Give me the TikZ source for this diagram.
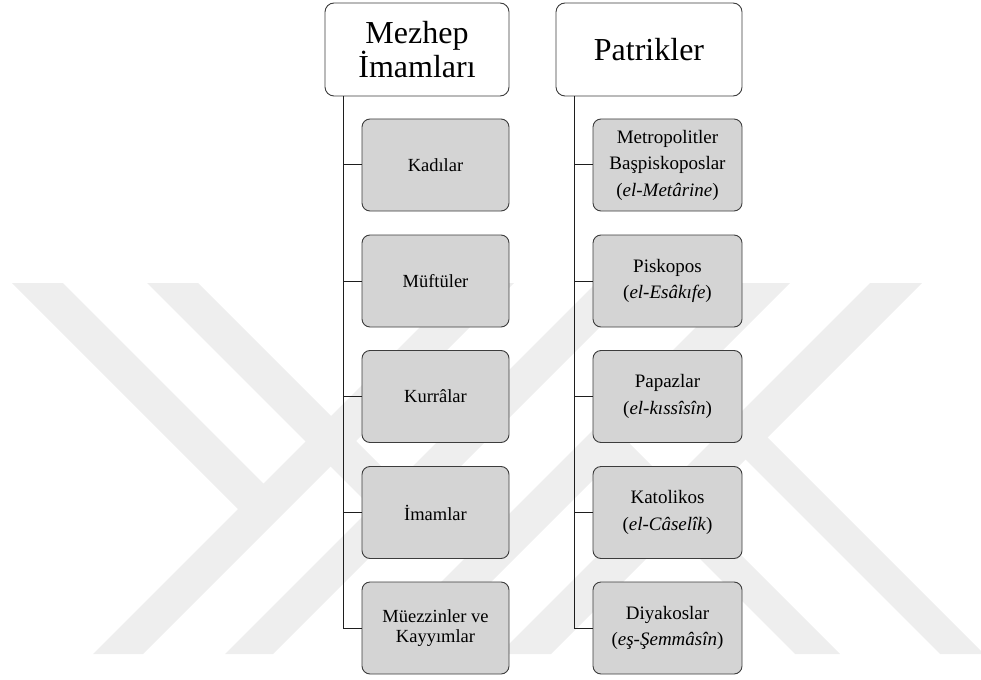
\documentclass[tikz,border=0pt]{standalone}
\usepackage{fontspec}
\setmainfont{Liberation Serif}
\definecolor{wmark}{RGB}{238,238,238}
\definecolor{boxfill}{RGB}{212,212,212}
\definecolor{boxline}{RGB}{60,60,60}
\definecolor{linkcol}{RGB}{30,30,30}
\begin{document}
\begin{tikzpicture}[x=1pt,y=-1pt,
  headbox/.style={draw=boxline, line width=0.9pt, fill=white, rounded corners=9pt,
    inner sep=0pt, minimum height=93pt, align=center,
    font=\fontsize{32}{33}\selectfont},
  leftbox/.style={draw=boxline, line width=0.9pt, fill=boxfill, rounded corners=8pt,
    inner sep=0pt, minimum width=147pt, minimum height=92pt, align=center,
    font=\fontsize{18.5}{19.5}\selectfont},
  rightbox/.style={draw=boxline, line width=0.9pt, fill=boxfill, rounded corners=8pt,
    inner sep=0pt, minimum width=149pt, minimum height=92pt, align=center,
    font=\fontsize{19}{26.5}\selectfont},
  link/.style={draw=linkcol, line width=1pt},
  band/.style={fill=wmark, draw=none}]
\useasboundingbox (0,0) rectangle (981,679);

% background emblem
\begin{scope}
\clip (0,0) rectangle (981,679);
\fill[band] (464,283) -- (514,283) -- (143,654) -- (93,654) -- cycle;
\fill[band] (596,283) -- (644,283) -- (273,654) -- (225,654) -- cycle;
\fill[band] (740,283) -- (790,283) -- (419,654) -- (369,654) -- cycle;
\fill[band] (870,283) -- (922,283) -- (551,654) -- (499,654) -- cycle;
\fill[band] (12,283) -- (63,283) -- (276,496) -- (250.5,521.5) -- cycle;
\fill[band] (147,283) -- (198,283) -- (409,494) -- (383.5,519.5) -- cycle;
\fill[band] (940,654) -- (984,654) -- (754.5,424.5) -- (732.5,446.5) -- cycle;
\fill[band] (795,654) -- (840,654) -- (617,431) -- (594.5,453.5) -- cycle;
\end{scope}

% column heads
\node[headbox, minimum width=184pt] (hdrL) at (417,49.5) {Mezhep\\İmamları};
\node[headbox, minimum width=186pt] (hdrR) at (649,49.5) {Patrikler};

% trunk positions
\coordinate (trunkL) at (343,0);
\coordinate (trunkR) at (574,0);

% left column
\node[leftbox] (l1) at (435.5,165)   {Kadılar};
\node[leftbox] (l2) at (435.5,281)   {Müftüler};
\node[leftbox] (l3) at (435.5,396.5) {Kurrâlar};
\node[leftbox] (l4) at (435.5,512.5) {İmamlar};
\node[leftbox] (l5) at (435.5,628)   {Müezzinler ve\\Kayyımlar};

% right column
\node[rightbox] (r1) at (667.5,165)   {Metropolitler\\Başpiskoposlar\\(\textit{el-Metârine})};
\node[rightbox] (r2) at (667.5,281)   {Piskopos\\(\textit{el-Esâkıfe})};
\node[rightbox] (r3) at (667.5,396.5) {Papazlar\\(\textit{el-kıssîsîn})};
\node[rightbox] (r4) at (667.5,512.5) {Katolikos\\(\textit{el-Câselîk})};
\node[rightbox] (r5) at (667.5,628)   {Diyakoslar\\(\textit{eş-Şemmâsîn})};

% connectors
\begin{scope}[on background layer/.style={}]
\foreach \c in {l1,l2,l3,l4,l5}
  \draw[link] (hdrL.south -| trunkL) |- (\c.west);
\foreach \c in {r1,r2,r3,r4,r5}
  \draw[link] (hdrR.south -| trunkR) |- (\c.west);
\end{scope}
\end{tikzpicture}
\end{document}
